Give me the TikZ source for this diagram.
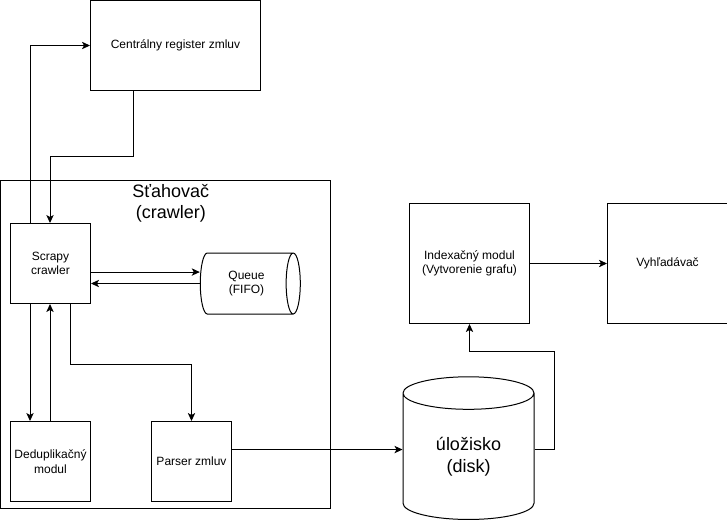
\documentclass[tikz,border=0pt]{standalone}
\usepackage{fontspec}
\setmainfont{Liberation Sans}
\usetikzlibrary{shapes.geometric, arrows.meta, positioning}
\tikzset{
  box/.style={
    rectangle, draw=black, line width=0.75pt,
    inner sep=0pt, align=center,
    font=\fontsize{9}{10.8}\selectfont
  },
  smallbox/.style={box, minimum width=60pt, minimum height=60pt},
  bigbox/.style={box, minimum width=90pt, minimum height=90pt},
  store/.style={
    cylinder, draw=black, line width=0.75pt,
    inner sep=0pt, align=center
  },
  bigtext/.style={font=\fontsize{13.5}{16.2}\selectfont},
  arrow/.style={-{Stealth[length=6pt, width=5.5pt, inset=1.5pt]}, line width=0.75pt, black}
}
\begin{document}
\begin{tikzpicture}[x=0.75pt, y=-0.75pt]
  \useasboundingbox (0,0) rectangle (727,522);

  % crawler frame
  \node[box, anchor=north west, minimum width=247.5pt, minimum height=246pt] (crawler) at (0,180) {};
  \node[bigtext, align=center, inner sep=0pt, anchor=north, xshift=4pt, yshift=-3pt] (crawlertitle) at (crawler.north) {Sťahovač\\(crawler)};

  \node[box, anchor=north west, minimum width=127.5pt, minimum height=67.5pt] (register) at (90,0) {Centrálny register zmluv};

  \node[smallbox, anchor=north west] (scrapy) at (10,223) {Scrapy\\crawler};
  \node[store, font=\fontsize{9}{10.8}\selectfont, aspect=0.56, minimum width=45.75pt, minimum height=75pt] (queue) at (246.5,283.5) {Queue\\(FIFO)};
  \node[smallbox, anchor=north west] (dedup) at (10,421) {Deduplikačný\\modul};
  \node[smallbox, right=45pt of dedup] (parser) {Parser zmluv};

  \node[store, bigtext, shape border rotate=90, aspect=0.5, minimum width=98.25pt, minimum height=107pt] (disk) at (468.5,456.5) {úložisko\\(disk)};

  \node[bigbox, anchor=north west] (index) at (409,203) {Indexačný modul\\(Vytvorenie grafu)};
  \node[bigbox, right=57.75pt of index] (search) {Vyhľadávač};

  \coordinate (diskin) at ([yshift=-21.4pt]parser.north east -| disk.west);

  \draw[arrow] ([xshift=15pt]scrapy.north west) |- (register.west);
  \draw[arrow] ([xshift=32.25pt]register.south west) -- ++(0,65) -| ([xshift=30pt]scrapy.north west);
  \draw[arrow] ([yshift=-6.4pt]scrapy.east) -- ([yshift=-6.4pt]scrapy.east -| queue.west);
  \draw[arrow] (queue.west) -- (queue.west -| scrapy.east);
  \draw[arrow] ([xshift=15pt]scrapy.south west) -- ([xshift=15pt]dedup.north west);
  \draw[arrow] ([xshift=30pt]dedup.north west) -- ([xshift=30pt]scrapy.south west);
  \draw[arrow] ([xshift=45pt]scrapy.south west) -- ++(0,60) -| (parser.north);
  \draw[arrow] (diskin -| parser.east) -- (diskin);
  \draw[arrow] (diskin -| disk.east) -- ++(20,0) -- ++(0,-98) -| (index.south);
  \draw[arrow] (index.east) -- (search.west);

\end{tikzpicture}
\end{document}
